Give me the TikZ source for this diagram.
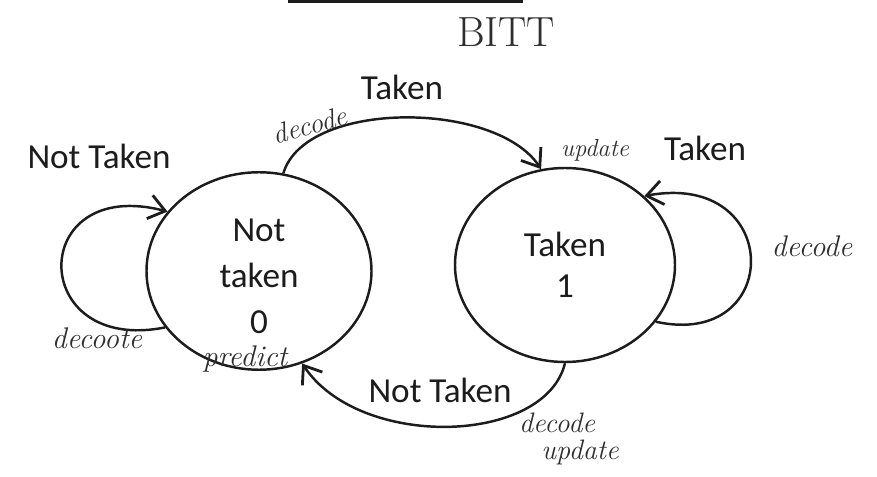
\documentclass[tikz,border=0pt]{standalone}
\usepackage{fontspec}
\newfontfamily\labelfont{Carlito}
\usetikzlibrary{shapes.geometric,arrows.meta}

\definecolor{InkBlack}{HTML}{1c1c1c}
\definecolor{PencilGray}{HTML}{2e2e2e}
\tikzstyle{state}=[ellipse, draw=InkBlack, line width=1.4pt, align=center, inner sep=0pt,
                   text=InkBlack, font=\labelfont\fontsize{20}{26}\selectfont]
\tikzstyle{transition}=[draw=InkBlack, line width=1.4pt, -{Straight Barb[length=3.2mm,width=4.8mm,line width=1.6pt]}]
\tikzstyle{edge-label}=[text=InkBlack, font=\labelfont\fontsize{20}{24}\selectfont]
\tikzstyle{note}=[text=PencilGray, inner sep=0.5pt, font=\itshape\fontsize{16}{19}\selectfont]

\begin{document}
\begin{tikzpicture}[x=0.2mm, y=0.2mm]
      \useasboundingbox (0,0) rectangle (877,477);
      \draw [InkBlack, line width=0.6mm] (288,475.5) -- (523,475.5);

      \node (state-nottaken) at (259,206)
            [state, minimum width=45mm, minimum height=39.5mm, text height=71pt] {Not\\taken\\0};
      \node (state-taken) at (565,212)
            [state, minimum width=44mm, minimum height=38.8mm, font=\labelfont\fontsize{20}{23}\selectfont] {Taken\\1};

      \draw [transition] (state-nottaken.211) .. controls (27,122) and (27,302) .. (state-nottaken.147);
      \draw [transition] (state-taken.328) .. controls (784,127) and (784,307) .. (state-taken.41);
      \draw [transition] (state-nottaken.76) .. controls (305,377) and (495,377) .. (state-taken.104);
      \draw [transition] (state-taken.270) .. controls (545,32) and (360,27) .. (state-nottaken.295);

      \node (label-taken-top)        at (402,390) [edge-label] {Taken};
      \node (label-nottaken-left)    at (99,321)  [edge-label] {Not Taken};
      \node (label-taken-right)      at (705,329) [edge-label] {Taken};
      \node (label-nottaken-bottom)  at (440,87)  [edge-label] {Not Taken};

      \node (note-bitt)          at (506,445) [note, font=\fontsize{24}{28}\selectfont] {BITT};
      \node (note-decode-top)    at (310,352) [note, rotate=15] {decode};
      \node (note-update-top)    at (595,327) [note, font=\itshape\fontsize{14}{16}\selectfont] {update};
      \node (note-decode-right)  at (812,231) [note, font=\itshape\fontsize{17}{20}\selectfont] {decode};
      \node (note-decode-left)   at (97,139)  [note, font=\itshape\fontsize{17}{20}\selectfont] {decoote};
      \node (note-predict)       at (245,118) [note, font=\itshape\fontsize{17}{20}\selectfont] {predict};
      \node (note-decode-bottom) at (557,54)  [note] {decode};
      \node (note-update-bottom) at (580,25)  [note] {update};
\end{tikzpicture}
\end{document}
